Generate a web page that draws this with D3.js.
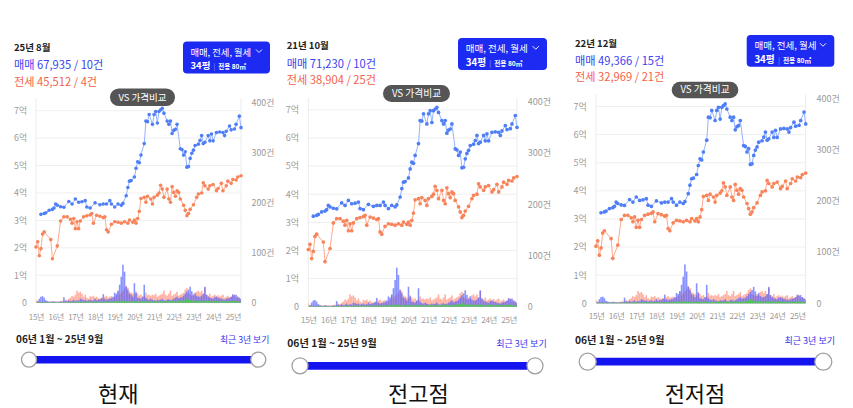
<!DOCTYPE html>
<html>
<head>
<meta charset="utf-8">
<script src="https://cdn.jsdelivr.net/npm/d3@7"></script>
<style>
  body { margin: 0; background: #fff; }
  svg { display: block; font-family: "Noto Sans CJK KR", "Noto Sans", sans-serif; }
</style>
</head>
<body>
<script>
// ---- data (월 인덱스: 15년 1월 = 0) ----
const yearLabels = ['15년', '16년', '17년', '18년', '19년', '20년', '21년', '22년', '23년', '24년', '25년'];
const priceTicks = [0, 1, 2, 3, 4, 5, 6, 7];
const countTicks = [0, 100, 200, 300, 400];

// 매매 평균가 (억)
const saleSeries = [
    [3, 3.22], [5, 3.25], [6, 3.28], [8, 3.37], [10, 3.4], [11, 3.45], [12, 3.6], [13, 3.55],
    [15, 3.5], [17, 3.48], [20, 3.69], [22, 3.6], [24, 3.78], [26, 3.66], [28, 3.68], [30, 3.72],
    [31, 3.49], [33, 3.45], [36, 3.64], [39, 3.57], [41, 3.6], [43, 3.6], [45, 3.72], [46, 3.6],
    [48, 3.49], [50, 3.6], [52, 3.55], [53, 3.62], [55, 3.9], [56, 4.2], [57, 4.43], [58, 4.45],
    [60, 4.58], [61, 4.9], [62, 5.14], [63, 5.1], [64, 5.38], [66, 5.8], [67, 6.62], [68, 6.6],
    [69, 6.86], [71, 6.5], [72, 6.86], [73, 6.97], [74, 6.55], [75, 6.97], [76, 7.03], [77, 7.09],
    [78, 6.91], [80, 6.62], [81, 6.5], [82, 6.62], [83, 6.17], [84, 6.28], [85, 6.32], [86, 6.5],
    [88, 5.61], [89, 5.58], [90, 5.38], [91, 5.5], [92, 4.94], [93, 4.96], [94, 5.26], [95, 5.45],
    [96, 5.56], [97, 5.73], [99, 5.78], [100, 5.91], [101, 6.09], [102, 5.8], [103, 5.85], [105, 6.09],
    [106, 5.9], [107, 6.15], [108, 5.9], [110, 6.2], [112, 6.22], [114, 6.2], [115, 6.09], [116, 6.25],
    [118, 6.44], [119, 6.3], [121, 6.33], [122, 6.5], [124, 6.8], [125, 6.38]
];

// 전세 평균가 (억)
const rentSeries = [
    [0, 2.03], [1, 2.22], [2, 1.71], [3, 1.97], [4, 2.5], [5, 2.58], [9, 2.3], [10, 1.6],
    [13, 2.07], [15, 2.98], [17, 3.13], [19, 3.13], [21, 3.04], [22, 2.9], [23, 3.07], [24, 2.7],
    [25, 2.95], [26, 2.7], [27, 2.98], [29, 3.13], [31, 3.17], [33, 3.2], [34, 3.25], [35, 2.9],
    [37, 3.19], [39, 3.15], [41, 3.1], [42, 3.13], [43, 2.66], [44, 2.58], [46, 2.86], [48, 2.95],
    [50, 2.93], [52, 2.9], [54, 2.95], [56, 2.9], [57, 3.01], [59, 2.93], [60, 3.01], [61, 2.9],
    [62, 3.07], [63, 3.33], [64, 3.8], [66, 3.84], [67, 3.66], [68, 3.88], [70, 3.78], [71, 3.6],
    [72, 3.84], [74, 3.92], [75, 4.0], [76, 4.28], [77, 4.14], [78, 3.84], [80, 4.14], [81, 3.78],
    [82, 3.66], [83, 4.23], [84, 4.02], [85, 3.88], [86, 4.08], [87, 4.02], [88, 3.78], [90, 3.55],
    [91, 3.37], [92, 3.17], [93, 3.25], [94, 3.4], [96, 3.57], [98, 3.84], [99, 3.96], [101, 4.0],
    [102, 4.37], [103, 4.26], [105, 4.14], [106, 4.26], [108, 4.31], [110, 4.08], [111, 4.16], [113, 4.35],
    [114, 4.08], [116, 4.26], [117, 4.43], [119, 4.35], [120, 4.49], [122, 4.47], [123, 4.58], [125, 4.63]
];

// 월별 거래량 (건)
const saleVolume = [
    0, 3, 8, 12, 13, 10, 5, 3, 2, 2,
    3, 2, 2, 1, 2, 3, 2, 11, 4, 3,
    5, 3, 4, 6, 3, 5, 4, 8, 7, 5,
    6, 4, 5, 6, 4, 5, 8, 5, 6, 7,
    9, 17, 8, 6, 7, 8, 9, 12, 20, 18,
    24, 36, 52, 76, 62, 32, 26, 18, 16, 12,
    39, 20, 10, 9, 8, 12, 36, 10, 7, 6,
    8, 6, 5, 4, 6, 5, 6, 8, 5, 4,
    6, 7, 5, 6, 8, 10, 12, 9, 10, 11,
    14, 18, 22, 26, 32, 23, 15, 20, 14, 12,
    12, 14, 18, 32, 16, 12, 10, 9, 8, 11,
    12, 10, 9, 8, 7, 6, 8, 9, 10, 12,
    17, 15, 16, 12, 10, 8
];
const rentVolume = [
    6, 3, 2, 2, 3, 2, 2, 3, 2, 2,
    2, 3, 2, 3, 2, 2, 4, 3, 6, 5,
    8, 10, 14, 12, 16, 24, 20, 22, 18, 12,
    16, 10, 8, 13, 12, 14, 10, 12, 9, 8,
    10, 8, 12, 14, 10, 12, 13, 10, 12, 14,
    22, 16, 20, 24, 28, 34, 30, 22, 20, 18,
    16, 22, 18, 14, 16, 12, 14, 20, 15, 16,
    14, 16, 15, 18, 12, 14, 16, 18, 24, 16,
    14, 18, 24, 14, 16, 18, 22, 14, 16, 18,
    20, 26, 29, 18, 16, 14, 18, 16, 22, 24,
    20, 24, 18, 30, 16, 14, 18, 12, 14, 16,
    13, 15, 12, 14, 16, 10, 12, 14, 10, 12,
    14, 16, 10, 12, 8, 6
];
const monthlyVolume = [
    1, 1, 1, 1, 1, 1, 1, 1, 1, 1,
    1, 1, 1, 1, 1, 1, 1, 1, 2, 1,
    1, 2, 1, 2, 2, 1, 2, 2, 2, 2,
    2, 2, 2, 2, 2, 2, 2, 2, 2, 2,
    2, 2, 2, 3, 2, 2, 3, 2, 3, 3,
    3, 3, 4, 4, 3, 3, 3, 3, 2, 3,
    3, 3, 3, 2, 3, 3, 3, 3, 2, 3,
    3, 2, 3, 3, 3, 2, 3, 3, 3, 3,
    3, 3, 3, 4, 3, 3, 3, 4, 4, 4,
    4, 5, 8, 6, 5, 4, 4, 4, 4, 3,
    4, 3, 4, 4, 3, 4, 3, 3, 3, 4,
    3, 3, 3, 4, 3, 3, 3, 3, 3, 4,
    3, 4, 3, 3, 3, 2
];

const panelDates = ['25년 8월', '21년 10월', '22년 12월'];
const panelSale = ['매매 67,935 / 10건', '매매 71,230 / 10건', '매매 49,366 / 15건'];
const panelRent = ['전세 45,512 / 4건', '전세 38,904 / 25건', '전세 32,969 / 21건'];
const panelCaptions = ['현재', '전고점', '전저점'];
const rangeLabel = '06년 1월 ~ 25년 9월';

// ---- layout ----
const layouts = [
    { hx: 14, hy: [51, 69, 85.5], btn: [183, 41.5, 87, 32], pill: [110, 88.5, 65, 17.5],
      plot: [36, 241, 102.7, 302.7], xly: 320,
      sl: { ty: 342.5, y: 359.7, x0: 29, x1: 258.3, tx: 16, rx: 269.3, r: 7.5 }, cap: [118.3, 402] },
    { hx: 286.7, hy: [48.5, 68, 84], btn: [458, 38, 89, 32], pill: [383, 85, 67, 17],
      plot: [308.3, 517, 101.7, 306.7], xly: 323,
      sl: { ty: 347, y: 365.8, x0: 300, x1: 535, tx: 287.3, rx: 546.7, r: 8 }, cap: [418.3, 402] },
    { hx: 575, hy: [47, 64.5, 80.5], btn: [746.7, 35, 87.6, 31.7], pill: [671.7, 81.7, 66.6, 16.6],
      plot: [596, 805.7, 98.3, 303.3], xly: 319,
      sl: { ty: 344, y: 361.7, x0: 587.7, x1: 823.3, tx: 575, rx: 835, r: 8.5 }, cap: [695, 402] }
];

const svg = d3.select('body').append('svg')
    .attr('width', 853)
    .attr('height', 408);

svg.append('rect').attr('width', 853).attr('height', 408).attr('fill', '#fff');

layouts.forEach((p, i) => drawPanel(p, i));

function drawPanel(p, i) {
    const g = svg.append('g');
    const [L, R, T, B] = p.plot;
    const k = (B - T) / 200;

    const x = d3.scaleLinear().domain([0, 125]).range([L, R]);
    const yPrice = d3.scaleLinear().domain([0, 7.29]).range([B, T]);
    const yCount = d3.scaleLinear().domain([0, 400]).range([B, T]);

    // header
    g.append('text').attr('x', p.hx).attr('y', p.hy[0])
        .attr('font-size', 9.5).attr('font-weight', 600).attr('fill', '#222')
        .text(panelDates[i]);
    g.append('text').attr('x', p.hx).attr('y', p.hy[1])
        .attr('font-size', 11.2).attr('fill', '#3b44ee')
        .text(panelSale[i]);
    g.append('text').attr('x', p.hx).attr('y', p.hy[2])
        .attr('font-size', 11.2).attr('fill', '#f5634a')
        .text(panelRent[i]);

    // filter button
    const [bx, by, bw, bh] = p.btn;
    g.append('rect').attr('x', bx).attr('y', by).attr('width', bw).attr('height', bh)
        .attr('rx', 4).attr('fill', '#1d2bf2');
    g.append('text').attr('x', bx + 7.5 * k).attr('y', by + 14 * k)
        .attr('font-size', 9.3 * k).attr('fill', '#fff')
        .text('매매, 전세, 월세');
    const cx = bx + bw - 11 * k, cy = by + 9.5 * k;
    g.append('path')
        .attr('d', `M${cx - 3 * k},${cy - 1.5 * k}L${cx},${cy + 1.5 * k}L${cx + 3 * k},${cy - 1.5 * k}`)
        .attr('fill', 'none').attr('stroke', '#fff').attr('stroke-width', 0.9);
    const l2 = g.append('text').attr('x', bx + 7.5 * k).attr('y', by + 27.5 * k).attr('fill', '#fff');
    l2.append('tspan').attr('font-size', 9.5 * k).attr('font-weight', 700).text('34평');
    l2.append('tspan').attr('dx', 3 * k).attr('font-size', 7 * k).attr('fill', '#9aa3ff').text('|');
    l2.append('tspan').attr('dx', 3 * k).attr('font-size', 6.5 * k).attr('font-weight', 700).text('전용 80㎡');

    // gridlines and borders
    g.append('g').selectAll('line').data(priceTicks).join('line')
        .attr('x1', L).attr('x2', R)
        .attr('y1', d => yPrice(d)).attr('y2', d => yPrice(d))
        .attr('stroke', '#efefef').attr('stroke-width', 1);
    g.append('line').attr('x1', L).attr('x2', L).attr('y1', T - 4).attr('y2', B)
        .attr('stroke', '#ececec');
    g.append('line').attr('x1', R).attr('x2', R).attr('y1', T - 4).attr('y2', B)
        .attr('stroke', '#ececec');

    // axes
    const leftAxis = d3.axisLeft(yPrice).tickValues(priceTicks)
        .tickFormat(d => d === 0 ? '0' : d + '억').tickSize(0).tickPadding(0);
    const rightAxis = d3.axisRight(yCount).tickValues(countTicks)
        .tickFormat(d => d === 0 ? '0' : d + '건').tickSize(0).tickPadding(0);
    const bottomAxis = d3.axisBottom(x).tickValues(yearLabels.map((d, j) => j * 12))
        .tickFormat(d => yearLabels[d / 12]).tickSize(0).tickPadding(0);

    const axes = [
        g.append('g').attr('transform', `translate(${L - 9 * k},0)`).call(leftAxis),
        g.append('g').attr('transform', `translate(${R + 10.5 * k},0)`).call(rightAxis),
        g.append('g').attr('transform', `translate(0,${p.xly})`).call(bottomAxis)
    ];
    axes.forEach(a => {
        a.select('.domain').remove();
        a.selectAll('text').attr('font-size', 8.8 * k).attr('fill', '#9a9a9a')
            .attr('font-family', '"Noto Sans CJK KR", sans-serif');
    });
    axes[2].selectAll('text').attr('dy', 0).attr('y', 0)
        .attr('font-size', 8 * k).attr('letter-spacing', -0.3);

    // volume bars
    const barW = (R - L) / 125 * 0.95;
    const bars = [
        [rentVolume, 'rgba(255,125,100,0.6)'],
        [saleVolume, 'rgba(80,95,255,0.68)'],
        [monthlyVolume, 'rgba(70,205,70,0.95)']
    ];
    bars.forEach(([vals, color]) => {
        g.append('g').selectAll('rect').data(vals).join('rect')
            .attr('x', (d, j) => Math.max(L, x(j) - barW / 2))
            .attr('width', (d, j) => Math.min(R, x(j) + barW / 2) - Math.max(L, x(j) - barW / 2))
            .attr('y', d => yCount(d))
            .attr('height', d => B - yCount(d))
            .attr('fill', color);
    });

    // price lines
    const line = d3.line().x(d => x(d[0])).y(d => yPrice(d[1]));
    const series = [
        [rentSeries, '#ffab8e', '#f7845a'],
        [saleSeries, '#95b3ff', '#4f7ef5']
    ];
    series.forEach(([data, lineColor, dotColor]) => {
        g.append('path').datum(data).attr('d', line)
            .attr('fill', 'none').attr('stroke', lineColor).attr('stroke-width', 1);
        g.append('g').selectAll('circle').data(data).join('circle')
            .attr('cx', d => x(d[0])).attr('cy', d => yPrice(d[1]))
            .attr('r', 1.8 * k).attr('fill', dotColor);
    });

    // VS pill
    const [px, py, pw, ph] = p.pill;
    g.append('rect').attr('x', px).attr('y', py).attr('width', pw).attr('height', ph)
        .attr('rx', ph / 2).attr('fill', '#555');
    g.append('text').attr('x', px + pw / 2).attr('y', py + ph / 2 + 3.3 * k)
        .attr('text-anchor', 'middle').attr('font-size', 9.5 * k).attr('fill', '#fff')
        .text('VS 가격비교');

    // range slider
    const s = p.sl;
    g.append('text').attr('x', s.tx).attr('y', s.ty)
        .attr('font-size', 10 * k).attr('font-weight', 600).attr('fill', '#222')
        .text(rangeLabel);
    g.append('text').attr('x', s.rx).attr('y', s.ty)
        .attr('text-anchor', 'end').attr('font-size', 8.8 * k).attr('fill', '#3535ee')
        .text('최근 3년 보기');
    g.append('line').attr('x1', s.x0).attr('x2', s.x1).attr('y1', s.y).attr('y2', s.y)
        .attr('stroke', '#1414f0').attr('stroke-width', 7.5 * k);
    [s.x0, s.x1].forEach(hx => {
        g.append('circle').attr('cx', hx).attr('cy', s.y).attr('r', s.r)
            .attr('fill', '#fff').attr('stroke', '#a0a0a0').attr('stroke-width', 1.3);
    });

    // caption
    g.append('text').attr('x', p.cap[0]).attr('y', p.cap[1])
        .attr('text-anchor', 'middle').attr('font-size', 22).attr('fill', '#111')
        .text(panelCaptions[i]);
}
</script>
</body>
</html>
